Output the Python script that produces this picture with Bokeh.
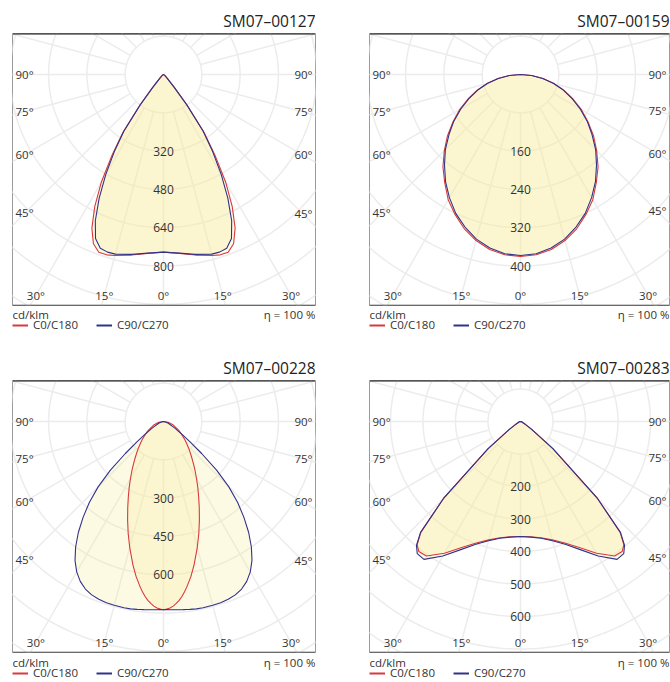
import numpy as np
from bokeh.plotting import figure
from bokeh.models import Legend, LegendItem, Span, Range1d
from bokeh.layouts import row, column
from bokeh.embed import file_html
from bokeh.resources import INLINE
from bokeh.core.properties import value

FONT = "Open Sans"
RED = "#d8393c"
BLUE = "#32328a"
FILL = "#f8ea94"
GRID = "#ececec"
TEXT = "#333333"

# ---------------- data (cd/klm vs. angle from nadir, degrees) ----------------
titles = ["SM07–00127", "SM07–00159", "SM07–00228", "SM07–00283"]

angles_1 = [0, 5, 10, 15, 17.5, 20, 22.5, 25, 27.5, 30, 32.5, 35, 37.5, 40, 45, 50, 60, 70, 80, 90]
c0_c180_1 = [742, 750, 766, 783, 790, 790, 765, 708, 622, 520, 400, 295, 162, 70, 20, 8, 3, 1, 0, 0]
c90_c270_1 = [742, 749, 763, 777, 778, 772, 742, 674, 582, 482, 383, 288, 160, 70, 20, 8, 3, 1, 0, 0]
ring_step_1 = 160
ring_labels_1 = [320, 480, 640, 800]

angles_2 = [0, 5, 10, 15, 20, 25, 30, 35, 40, 45, 50, 55, 60, 65, 70, 75, 80, 85, 90]
c0_c180_2 = [380, 378, 371, 359, 343, 323, 302, 276, 252, 225, 199, 172, 147, 121, 97, 72, 48, 24, 0]
c90_c270_2 = [378, 376, 368, 356, 339, 320, 297, 273, 247, 222, 195, 170, 144, 119, 95, 71, 47, 23, 0]
ring_step_2 = 80
ring_labels_2 = [160, 240, 320, 400]

angles_3 = [0, 1, 2, 3, 4, 5, 6, 7, 8, 10, 12, 15, 17.5, 20, 22.5, 25, 27.5, 30, 32.5, 35, 37.5, 40,
            42.5, 45, 47.5, 50, 52.5, 55, 57.5, 60, 70, 80, 90]
c0_c180_3 = [737, 735, 731, 724, 714, 703, 689, 673, 655, 617, 575, 511, 460, 411, 366, 326, 291, 259,
             231, 206, 184, 165, 149, 133, 120, 107, 96, 86, 77, 68, 41, 19, 0]
c90_c270_3 = [737, 737, 738, 738, 739, 740, 741, 742, 743, 745, 746, 745, 744, 741, 735, 724, 706, 680,
              645, 600, 548, 490, 430, 362, 282, 195, 130, 90, 66, 50, 20, 6, 0]
ring_step_3 = 150
ring_labels_3 = [300, 450, 600]

angles_4 = [0, 5, 10, 15, 20, 25, 30, 35, 38, 40, 42, 45, 50, 55, 60, 70, 80, 90]
c0_c180_4 = [354, 356, 363, 377, 398, 428, 468, 505, 508, 495, 458, 335, 130, 42, 15, 5, 2, 0]
c90_c270_4 = [354, 357, 365, 380, 402, 435, 478, 518, 516, 498, 460, 335, 130, 42, 15, 5, 2, 0]
ring_step_4 = 100
ring_labels_4 = [200, 300, 400, 500, 600]

side_angles = [90, 75, 60, 45]
side_labels = ["90°", "75°", "60°", "45°"]
bottom_angles = [-30, -15, 0, 15, 30]
bottom_labels = ["30°", "15°", "0°", "15°", "30°"]
legend_labels = ["C0/C180", "C90/C270"]
unit_text = "cd/klm"
efficiency_text = "η = 100 %"

# ---------------- geometry (pixels) ----------------
FRAME_H = 272
CX = 151   # luminaire centre from frame left
CY = 41    # luminaire centre from frame top


def bare_fig(left, frame_w, right, h):
    p = figure(width=left + frame_w + right, height=h,
               x_range=Range1d(0, frame_w), y_range=Range1d(0, h),
               output_backend="svg", toolbar_location=None,
               x_axis_location=None, y_axis_location=None,
               min_border_left=left, min_border_right=right,
               min_border_top=0, min_border_bottom=0,
               outline_line_color=None, background_fill_color="white",
               border_fill_color="white")
    p.grid.visible = False
    return p


def head_panel(title, left, frame_w, right, h, text_from_top):
    p = bare_fig(left, frame_w, right, h)
    p.text(x=[frame_w], y=[h - text_from_top], text=[title], text_align="right",
           text_baseline="middle", text_font=value(FONT), text_font_size="15.5px",
           text_color="#222222")
    return p


def foot_panel(left, frame_w, right, h, unit_from_top, legend_from_top):
    p = bare_fig(left, frame_w, right, h)
    p.text(x=[0], y=[h - unit_from_top], text=[unit_text], text_align="left",
           text_baseline="middle", text_font=value(FONT), text_font_size="11.5px",
           text_color=TEXT)
    p.text(x=[frame_w], y=[h - unit_from_top], text=[efficiency_text],
           text_align="right", text_baseline="middle", text_font=value(FONT),
           text_font_size="11.5px", text_color=TEXT)
    r_red = p.line(x=[np.nan], y=[np.nan], line_color=RED, line_width=2)
    r_blue = p.line(x=[np.nan], y=[np.nan], line_color=BLUE, line_width=2)
    leg = Legend(items=[LegendItem(label=legend_labels[0], renderers=[r_red]),
                        LegendItem(label=legend_labels[1], renderers=[r_blue])],
                 location=(0, h - legend_from_top - 6), orientation="horizontal",
                 padding=0, margin=0, spacing=18, label_standoff=5, glyph_width=16,
                 glyph_height=12, label_height=12, label_text_font_size="11.5px",
                 label_text_font=FONT, label_text_color=TEXT, border_line_color=None,
                 background_fill_alpha=0)
    p.add_layout(leg)
    return p


def outline(ang, vals):
    a = np.array(ang, dtype=float)
    v = np.array(vals, dtype=float)
    g = np.radians(np.concatenate([-a[::-1], a[1:]]))
    r = np.concatenate([v[::-1], v[1:]])
    return list(r * np.sin(g)), list(-r * np.cos(g))


def polar_panel(ang, c0, c90, step, ring_labels, px_ring, frame_w, left, right):
    u = step / px_ring
    xs0, xs1 = -CX * u, (frame_w - CX) * u
    ys1, ys0 = CY * u, -(FRAME_H - CY) * u
    p = figure(width=left + frame_w + right, height=FRAME_H + 4,
               x_range=Range1d(xs0, xs1), y_range=Range1d(ys0, ys1),
               output_backend="svg", toolbar_location=None,
               x_axis_location=None, y_axis_location=None,
               min_border_left=left, min_border_right=right,
               min_border_top=2, min_border_bottom=2,
               background_fill_color="white", border_fill_color="white",
               outline_line_color="#9a9a9a", outline_line_width=1)
    p.grid.visible = False

    # polar grid
    t = np.linspace(0, 2 * np.pi, 361)
    n_rings = int(np.ceil(np.hypot(max(CX, frame_w - CX), FRAME_H - CY) / px_ring)) + 1
    radii = step * np.arange(1, n_rings + 1)
    p.multi_line(xs=[list(r * np.cos(t)) for r in radii],
                 ys=[list(r * np.sin(t)) for r in radii],
                 line_color=GRID, line_width=1.5)
    spokes = np.radians(np.arange(0, 360, 15))
    rmax = radii[-1]
    p.multi_line(xs=[[step * np.sin(a), rmax * np.sin(a)] for a in spokes],
                 ys=[[-step * np.cos(a), -rmax * np.cos(a)] for a in spokes],
                 line_color=GRID, line_width=1.5)

    # curves
    x0, y0 = outline(ang, c0)
    x9, y9 = outline(ang, c90)
    p.patch(x0, y0, fill_color=FILL, fill_alpha=0.25, line_color=None)
    p.patch(x9, y9, fill_color=FILL, fill_alpha=0.25, line_color=None)

    # ring values
    p.text(x=[0] * len(ring_labels), y=[-v for v in ring_labels],
           text=[str(v) for v in ring_labels], text_align="center",
           text_baseline="middle", text_font=value(FONT),
           text_font_size="12px", text_color=TEXT)

    p.line(x0, y0, line_color=RED, line_width=1.1)
    p.line(x9, y9, line_color=BLUE, line_width=1.1)

    # angle labels
    dl = (CX - 13) * u
    dr = (frame_w - CX - 13) * u
    g = np.radians(side_angles)
    cot = np.cos(g) / np.sin(g)
    p.text(x=[xs0 + 3 * u] * len(side_angles), y=list(-dl * cot), text=side_labels,
           text_align="left", text_baseline="middle", text_font=value(FONT),
           text_font_size="11.5px", text_color=TEXT)
    p.text(x=[xs1 - 3 * u] * len(side_angles), y=list(-dr * cot), text=side_labels,
           text_align="right", text_baseline="middle", text_font=value(FONT),
           text_font_size="11.5px", text_color=TEXT)
    db = (FRAME_H - CY - 10) * u
    gb = np.radians(bottom_angles)
    p.text(x=list(db * np.tan(gb)), y=[-db] * len(bottom_angles), text=bottom_labels,
           text_align="center", text_baseline="middle", text_font=value(FONT),
           text_font_size="11.5px", text_color=TEXT)

    # frame accents
    p.add_layout(Span(location=ys1, dimension="width", line_color="#111111", line_width=2))
    p.add_layout(Span(location=ys0, dimension="width", line_color="#3a3a3a", line_width=1.5))
    return p


L_LEFT, L_W, L_RIGHT = 12, 303, 30
R_LEFT, R_W, R_RIGHT = 24, 300, 1

h1 = head_panel(titles[0], L_LEFT, L_W, L_RIGHT, 31, 20)
h2 = head_panel(titles[1], R_LEFT, R_W, R_RIGHT, 31, 20)
p1 = polar_panel(angles_1, c0_c180_1, c90_c270_1, ring_step_1, ring_labels_1, 38.3, L_W, L_LEFT, L_RIGHT)
p2 = polar_panel(angles_2, c0_c180_2, c90_c270_2, ring_step_2, ring_labels_2, 38.3, R_W, R_LEFT, R_RIGHT)
f1 = foot_panel(L_LEFT, L_W, L_RIGHT, 36, 7, 19)
f2 = foot_panel(R_LEFT, R_W, R_RIGHT, 36, 7, 19)

h3 = head_panel(titles[2], L_LEFT, L_W, L_RIGHT, 35, 24)
h4 = head_panel(titles[3], R_LEFT, R_W, R_RIGHT, 35, 24)
p3 = polar_panel(angles_3, c0_c180_3, c90_c270_3, ring_step_3, ring_labels_3, 38.3, L_W, L_LEFT, L_RIGHT)
p4 = polar_panel(angles_4, c0_c180_4, c90_c270_4, ring_step_4, ring_labels_4, 32.5, R_W, R_LEFT, R_RIGHT)
f3 = foot_panel(L_LEFT, L_W, L_RIGHT, 27, 8, 20)
f4 = foot_panel(R_LEFT, R_W, R_RIGHT, 27, 8, 20)

layout = column(row(column(h1, p1, f1), column(h2, p2, f2)),
                row(column(h3, p3, f3), column(h4, p4, f4)))
open("out.html", "w").write(file_html(layout, INLINE))
